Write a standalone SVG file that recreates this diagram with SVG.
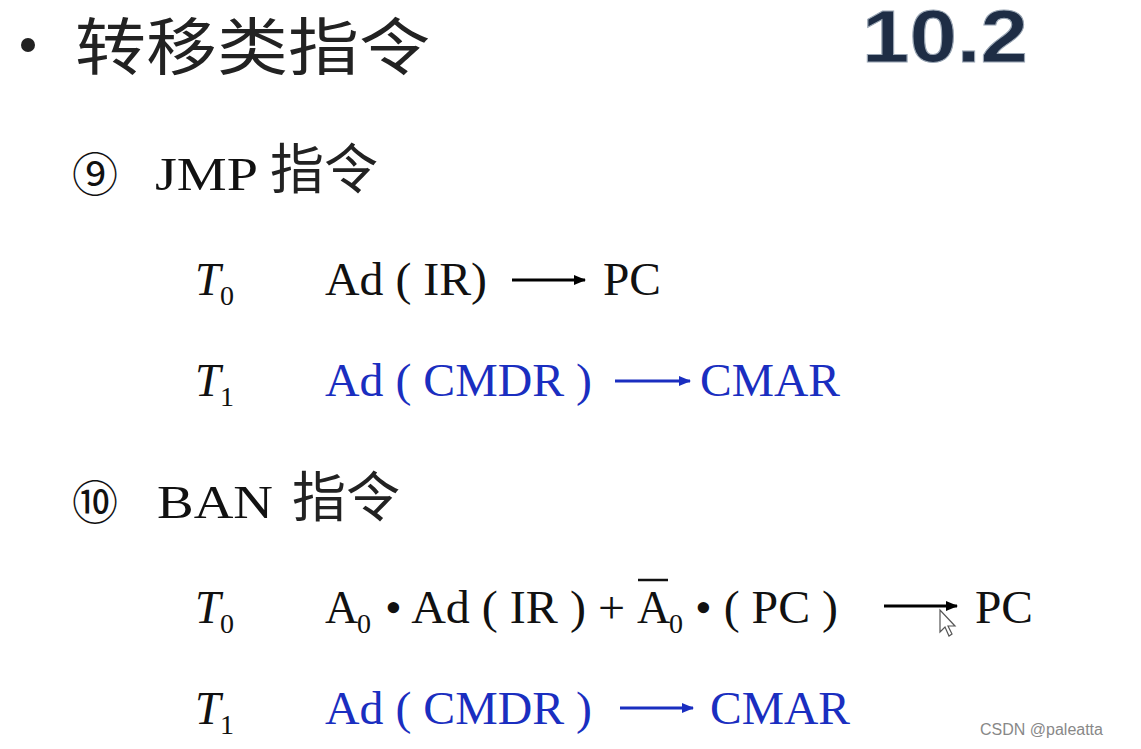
<svg xmlns="http://www.w3.org/2000/svg" width="1141" height="749" viewBox="0 0 1141 749">
<defs>
<marker id="ak" markerWidth="12" markerHeight="10" refX="11" refY="5" orient="auto" markerUnits="userSpaceOnUse"><path d="M0,0 L12,5 L0,10 Z" fill="#000"/></marker>
<marker id="ab" markerWidth="12" markerHeight="10" refX="11" refY="5" orient="auto" markerUnits="userSpaceOnUse"><path d="M0,0 L12,5 L0,10 Z" fill="#1a2ec0"/></marker>
</defs>
<style>
.s{font-family:"Liberation Serif","Noto Sans CJK SC",serif;font-size:46px;fill:#111}
.c{font-family:"Noto Sans CJK SC",sans-serif;fill:#222}
.b{fill:#1a2ec0}
.i{font-style:italic}
.sub{font-size:28px}
</style>
<rect width="1141" height="749" fill="#fff"/>
<circle cx="28" cy="45" r="7" fill="#222"/>
<text class="c" x="75" y="70" font-size="62" textLength="355" lengthAdjust="spacingAndGlyphs">转移类指令</text>
<text x="862" y="62" font-family="Liberation Sans,sans-serif" font-weight="bold" font-size="74" fill="#1e2d45" stroke="#9aa6b4" stroke-width="1" textLength="166" lengthAdjust="spacingAndGlyphs">10.2</text>

<text class="s" x="72" y="191" font-size="54">⑨</text>
<text class="s" x="155" y="190" textLength="103" lengthAdjust="spacingAndGlyphs">JMP</text>
<text class="c" x="270" y="189" font-size="54">指令</text>

<text class="s i" x="195" y="295">T</text><text class="s sub" x="220" y="305">0</text>
<text class="s" x="325" y="295" textLength="162" lengthAdjust="spacingAndGlyphs">Ad ( IR)</text>
<line x1="512" y1="280" x2="585" y2="280" stroke="#000" stroke-width="3" marker-end="url(#ak)"/>
<text class="s" x="603" y="295" textLength="58" lengthAdjust="spacingAndGlyphs">PC</text>

<text class="s i" x="195" y="396">T</text><text class="s sub" x="220" y="406">1</text>
<text class="s b" x="325" y="396" textLength="267" lengthAdjust="spacingAndGlyphs">Ad ( CMDR )</text>
<line x1="615" y1="381" x2="690" y2="381" stroke="#1a2ec0" stroke-width="3" marker-end="url(#ab)"/>
<text class="s b" x="700" y="396" textLength="140" lengthAdjust="spacingAndGlyphs">CMAR</text>

<text class="s" x="72" y="519" font-size="54">⑩</text>
<text class="s" x="157" y="518" textLength="116" lengthAdjust="spacingAndGlyphs">BAN</text>
<text class="c" x="292" y="517" font-size="54">指令</text>

<text class="s i" x="195" y="623">T</text><text class="s sub" x="220" y="633">0</text>
<text class="s" x="325" y="623">A</text><text class="s sub" x="357" y="633">0</text>
<text class="s" x="385" y="623" textLength="240" lengthAdjust="spacingAndGlyphs">• Ad ( IR ) +</text>
<text class="s" x="637" y="623">A</text><text class="s sub" x="669" y="633">0</text>
<line x1="638" y1="580" x2="668" y2="580" stroke="#111" stroke-width="2.5"/>
<text class="s" x="695" y="623" textLength="143" lengthAdjust="spacingAndGlyphs">• ( PC )</text>
<line x1="884" y1="606" x2="957" y2="606" stroke="#000" stroke-width="3" marker-end="url(#ak)"/>
<text class="s" x="975" y="623" textLength="58" lengthAdjust="spacingAndGlyphs">PC</text>
<path d="M940,610 L940,632 L945,627 L949,636 L952,634 L948,626 L955,626 Z" fill="#fff" stroke="#555" stroke-width="1.2"/>

<text class="s i" x="195" y="724">T</text><text class="s sub" x="220" y="734">1</text>
<text class="s b" x="325" y="724" textLength="267" lengthAdjust="spacingAndGlyphs">Ad ( CMDR )</text>
<line x1="620" y1="708" x2="693" y2="708" stroke="#1a2ec0" stroke-width="3" marker-end="url(#ab)"/>
<text class="s b" x="710" y="724" textLength="140" lengthAdjust="spacingAndGlyphs">CMAR</text>

<text x="980" y="735" font-family="Liberation Sans,sans-serif" font-size="16" fill="#888">CSDN @paleatta</text>
</svg>
